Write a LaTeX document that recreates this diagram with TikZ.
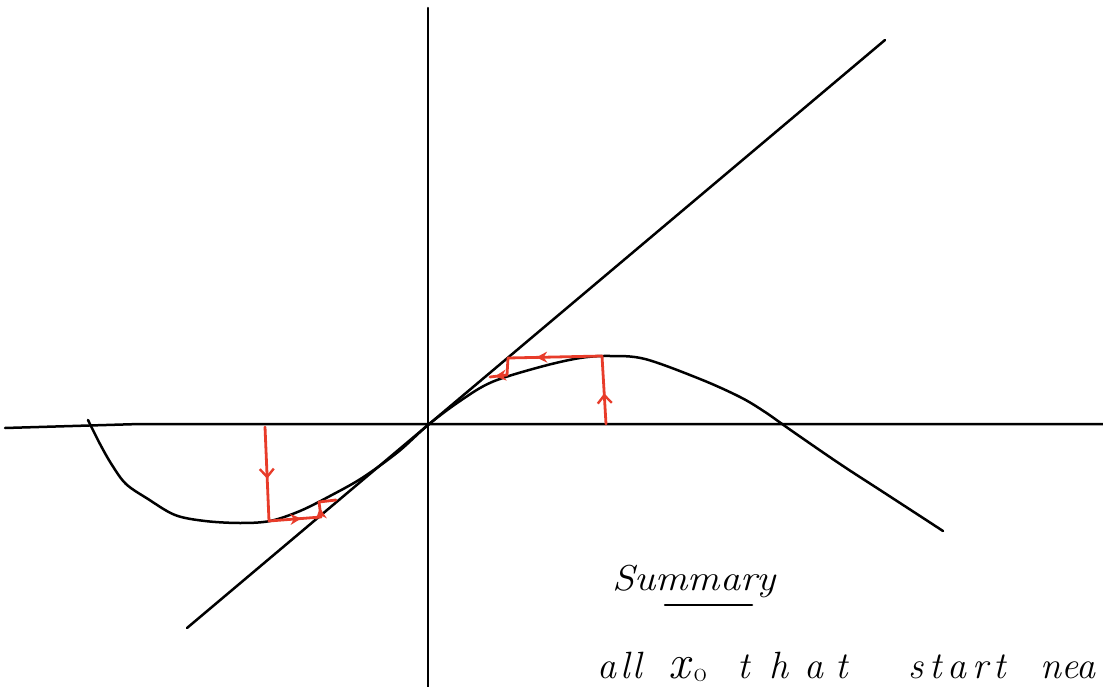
\documentclass[tikz,border=0pt]{standalone}
\usetikzlibrary{decorations.markings,arrows.meta}
\begin{document}
\begin{tikzpicture}[x=1pt,y=-1pt,
  ink/.style={line width=2.5pt,line cap=round,line join=round,black},
  redink/.style={line width=2.8pt,line cap=round,line join=round,draw=penred},
  midarrow/.style={postaction={decorate},decoration={markings,mark=at position #1 with {\arrow{Stealth[length=11pt,width=11pt]}}}},
  midbarb/.style={postaction={decorate},decoration={markings,mark=at position #1 with {\arrow{Straight Barb[length=8pt,width=14pt,line width=2.4pt]}}}},
  word/.style={font=\fontsize{38}{40}\selectfont\itshape,inner sep=0pt,anchor=base west}]
\definecolor{penred}{RGB}{232,60,42}
\useasboundingbox[fill=white] (0,0) rectangle (1103,687);
% axes
\coordinate (xl) at (5,428); \coordinate (xm) at (140,424); \coordinate (xr) at (1103,424);
\coordinate (yt) at (428,8); \coordinate (yb) at (428,687);
\draw[ink] (xl) -- (xm) -- (xr);
\draw[ink] (yt) -- (yb);
% diagonal y=x
\coordinate (dl) at (187,628); \coordinate (dr) at (885,40);
\draw[ink] (dl) -- (dr);
% curve
\draw[ink] plot[smooth,tension=0.55] coordinates {(88,420) (100,444) (112,465) (126,484) (148,499) (175,515) (205,521) (240,523) (270,521) (300,511) (330,496) (362,478) (398,452) (428,425) (460,401) (492,382) (540,367) (580,358) (610,356) (645,359) (700,379) (740,397) (765,412) (792,431) (840,464) (880,490) (920,516) (943,531)};
% red cobweb left
\coordinate (a0) at (265,427); \coordinate (a1) at (269,521); \coordinate (a2) at (321,517);
\coordinate (a3) at (319,502); \coordinate (a4) at (336,500);
\draw[redink,midbarb=0.55] (a0) -- (a1);
\draw[redink,midarrow=0.62] (a1) -- (a2);
\draw[redink,midarrow=0.6] (a2) -- (a3);
\draw[redink] (a3) -- (a4);
% red cobweb right
\coordinate (b0) at (606,424); \coordinate (b1) at (602,356); \coordinate (b2) at (508,358);
\coordinate (b3) at (507,375); \coordinate (b4) at (490,377);
\draw[redink,midbarb=0.45] (b0) -- (b1);
\draw[redink,midarrow=0.7] (b1) -- (b2);
\draw[redink] (b2) -- (b3);
\draw[redink,midarrow=0.7] (b3) -- (b4);
% text
\node[word,font=\fontsize{36}{38}\selectfont\itshape] (sum) at (612,590) {\scalebox{1.12}[1]{Summary}};
\coordinate (u0) at (665,605); \coordinate (u1) at (752,605);
\draw[ink] (u0) -- (u1);
\node[word] (w1) at (597,678) {a\hspace{4pt}l\hspace{3pt}l};
\node[word] (w2) at (668,678) {{\fontsize{48}{48}\selectfont x}\hspace{4pt}\raisebox{-3pt}{\fontsize{28}{28}\selectfont\upshape o}};
\node[word] (w3) at (737,678) {t\hspace{20pt}h\hspace{16pt}a\hspace{12pt}t};
\node[word] (w4) at (908,678) {s\hspace{6pt}t\hspace{6pt}a\hspace{6pt}r\hspace{5pt}t};
\node[word] (w5) at (1040,678) {nea};
\end{tikzpicture}
\end{document}
